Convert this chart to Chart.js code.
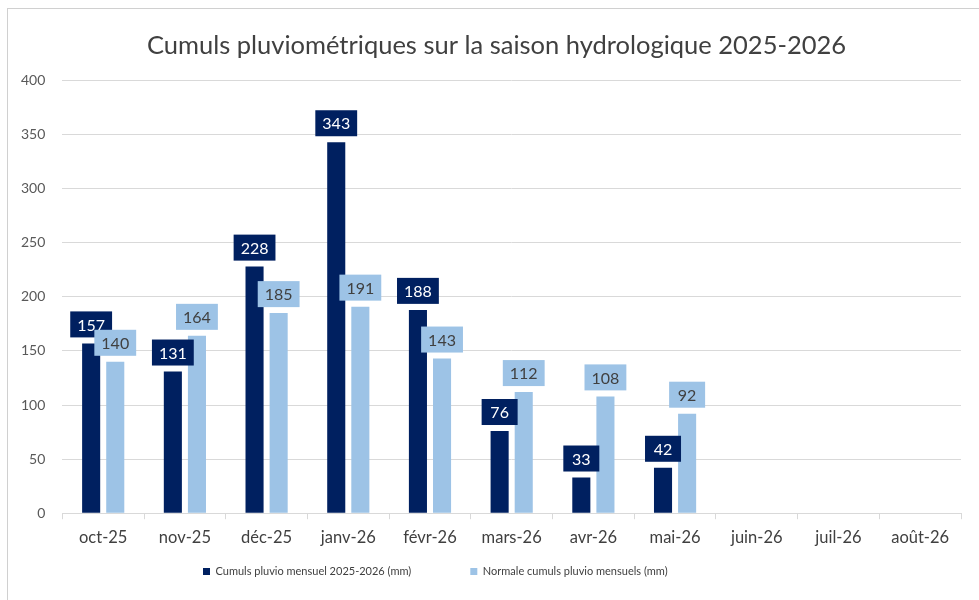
<!DOCTYPE html>
<html><head><meta charset="utf-8">
<script src="https://cdn.jsdelivr.net/npm/chart.js@4.4.1/dist/chart.umd.min.js"></script>
<style>
html,body{margin:0;padding:0;background:#fff;}
#wrap{position:absolute;left:0;top:0;width:979px;height:600px;}
#frame{position:absolute;left:7px;top:8px;width:990px;height:600px;border-left:1px solid #d0d0d0;border-top:1px solid #d0d0d0;}
canvas{position:absolute;left:0;top:0;}
</style></head>
<body>
<div id="wrap"><div id="frame"></div><canvas id="c" width="979" height="600"></canvas></div>
<script>
const categories = ["oct-25","nov-25","déc-25","janv-26","févr-26","mars-26","avr-26","mai-26","juin-26","juil-26","août-26"];
const cumuls2526 = [157,131,228,343,188,76,33,42,null,null,null];
const normales = [140,164,185,191,143,112,108,92,null,null,null];
const yTicks = [0,50,100,150,200,250,300,350,400];
const seriesNames = ["Cumuls pluvio mensuel 2025-2026 (mm)","Normale cumuls pluvio mensuels (mm)"];
const DARK = "#002060", LIGHT = "#9dc3e6";
const FONT = "Lato, 'Open Sans', sans-serif";

const labelPlugin = {
  id: 'boxLabels',
  afterDatasetsDraw(chart) {
    const ctx = chart.ctx;
    const styles = [{bg: DARK, fg: "#ffffff"}, {bg: LIGHT, fg: "#404040"}];
    chart.data.datasets.forEach((ds, di) => {
      const meta = chart.getDatasetMeta(di);
      meta.data.forEach((el, i) => {
        const v = ds.data[i];
        if (v === null || v === undefined) return;
        const txt = String(v);
        ctx.save();
        ctx.font = "16px " + FONT;
        const tw = ctx.measureText(txt).width;
        const w = Math.max(36, tw + 14), h = 26;
        const bottom = el.y - 6;
        ctx.fillStyle = styles[di].bg;
        ctx.fillRect(el.x - w / 2, bottom - h, w, h);
        ctx.fillStyle = styles[di].fg;
        ctx.textAlign = "center";
        ctx.textBaseline = "middle";
        ctx.fillText(txt, el.x, bottom - h / 2 + 1);
        ctx.restore();
      });
    });
  }
};

// nudges title and legend blocks to where the reference places them
const placePlugin = {
  id: 'place',
  afterLayout(chart) {
    const t = chart.titleBlock;
    if (t) { t.left += 14; t.right += 14; }
    const lg = chart.legend;
    if (lg) { const dy = -5; lg.top += dy; lg.bottom += dy; const w = lg.right - lg.left; lg.left = 203 - 14; lg.right = lg.left + w + 300; }
  }
};

new Chart(document.getElementById('c'), {
  type: 'bar',
  data: {
    labels: categories,
    datasets: [
      {label: seriesNames[0], data: cumuls2526, backgroundColor: DARK, categoryPercentage: 0.59, barPercentage: 0.75},
      {label: seriesNames[1], data: normales, backgroundColor: LIGHT, categoryPercentage: 0.59, barPercentage: 0.75}
    ]
  },
  options: {
    responsive: false,
    animation: false,
    layout: {padding: {left: 4, right: 18, top: 26, bottom: 8}},
    plugins: {
      title: {display: true, text: "Cumuls pluviométriques sur la saison hydrologique 2025-2026",
        color: "#404040", font: {family: FONT, size: 25.5, weight: 'normal'}, padding: {top: 4, bottom: 20}},
      legend: {position: 'bottom', align: 'start', labels: {boxWidth: 7, boxHeight: 7, color: "#404040", padding: 14,
        font: {family: FONT, size: 11},
        generateLabels(chart) {
          const items = Chart.defaults.plugins.legend.labels.generateLabels(chart);
          const ctx = chart.ctx;
          ctx.save(); ctx.font = "11px " + FONT;
          const sp = ctx.measureText(" ").width || 3;
          ctx.restore();
          const n = Math.round(45 / sp);
          if (items[0]) items[0].text = items[0].text + " ".repeat(n);
          return items;
        }}},
      tooltip: {enabled: false}
    },
    scales: {
      x: {
        grid: {display: true, drawOnChartArea: false, color: "#d9d9d9", tickLength: 6, offset: true},
        border: {color: "#d9d9d9"},
        ticks: {color: "#404040", font: {family: FONT, size: 16.5}, padding: 9}
      },
      y: {
        min: 0, max: 400,
        afterBuildTicks(axis) { axis.ticks = yTicks.map(v => ({value: v})); },
        grid: {color: "#d9d9d9", drawTicks: false},
        border: {display: false},
        ticks: {color: "#595959", font: {family: FONT, size: 14}, padding: 17}
      }
    }
  },
  plugins: [labelPlugin, placePlugin]
});
</script>
</body></html>
